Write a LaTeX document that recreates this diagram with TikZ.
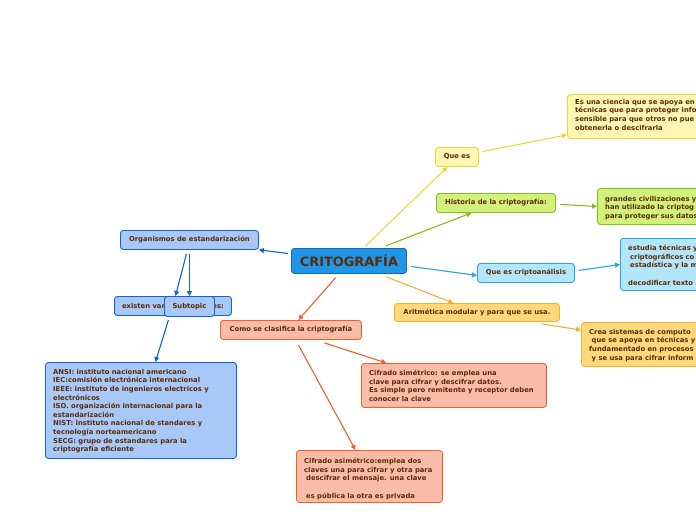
\documentclass[tikz,border=0pt]{standalone}
\usepackage{fontspec}
\setmainfont{DejaVu Sans}
\usetikzlibrary{arrows.meta}
\definecolor{txt}{HTML}{5A2C08}
\definecolor{cenF}{HTML}{2196E8}\definecolor{cenD}{HTML}{1468B8}
\definecolor{yeF}{HTML}{FFF6B4}\definecolor{yeD}{HTML}{EED63C}
\definecolor{grF}{HTML}{D2F07C}\definecolor{grD}{HTML}{84BE1C}
\definecolor{cyF}{HTML}{B4E6FA}\definecolor{cyD}{HTML}{24A6E8}
\definecolor{orF}{HTML}{FFD87C}\definecolor{orD}{HTML}{F6B030}
\definecolor{saF}{HTML}{F9BCA8}\definecolor{saD}{HTML}{F0602C}
\definecolor{blF}{HTML}{A8C8F8}\definecolor{blD}{HTML}{1462D8}
\tikzset{
  box/.style={draw, rounded corners=3pt, line width=0.9pt, inner sep=0pt, anchor=north west,
    font=\fontsize{6.8}{8.6}\selectfont\bfseries, text=txt},
  lbl/.style={inner sep=0pt, anchor=north west, align=left,
    font=\fontsize{6.8}{8.6}\selectfont\bfseries, text=txt},
  conn/.style={line width=1.1pt, -{Triangle[length=5pt,width=5pt]}},
  yel/.style={fill=yeF, draw=yeD}, grn/.style={fill=grF, draw=grD},
  cya/.style={fill=cyF, draw=cyD}, org/.style={fill=orF, draw=orD},
  sal/.style={fill=saF, draw=saD}, blu/.style={fill=blF, draw=blD},
}
\begin{document}
\begin{tikzpicture}[x=1pt,y=-1pt]
\useasboundingbox (0,0) rectangle (696,520);
\fill[white] (0,0) rectangle (696,520);
\clip (0,0) rectangle (696,520);
% central
\node[box, fill=cenF, draw=cenD, minimum width=115pt, minimum height=25pt,
  font=\fontsize{12.9}{14}\selectfont\bfseries] (crit) at (291,248) {CRITOGRAFÍA};
% yellow
\node[box, yel, minimum width=43pt, minimum height=19pt] (quees) at (435,147) {Que es};
\node[box, yel, minimum width=160pt, minimum height=44pt] (def) at (567,94) {};
\node[lbl] at (575,99) {Es una ciencia que se apoya en\\técnicas que para proteger info\\sensible para que otros no pue\\obtenerla o descifrarla};
% green
\node[box, grn, minimum width=119pt, minimum height=19pt] (hist) at (436,193) {Historia de la criptografía:};
\node[box, grn, minimum width=130pt, minimum height=36pt] (grandes) at (597,188) {};
\node[lbl] at (605,196) {grandes civilizaciones y\\han utilizado la criptog\\para proteger sus datos};
% cyan
\node[box, cya, minimum width=97pt, minimum height=19pt] (cripto) at (477,263) {Que es criptoanálisis};
\node[box, cya, minimum width=110pt, minimum height=52pt] (estudia) at (620,238) {};
\node[lbl] at (628,245) {estudia técnicas y\\\hspace*{2pt}criptográficos co\\\hspace*{2pt}estadística y la m\\[8.6pt]decodificar texto};
% orange
\node[box, org, minimum width=165pt, minimum height=18pt] (arit) at (394,303) {Aritmética modular y para que se usa.};
\node[box, org, minimum width=150pt, minimum height=44pt] (crea) at (581,322) {};
\node[lbl] at (589,329) {Crea sistemas de computo\\\hspace*{2.5pt}que se apoya en técnicas y\\fundamentado en procesos\\\hspace*{2.5pt}y se usa para cifrar inform};
% salmon
\node[box, sal, minimum width=141pt, minimum height=19pt] (como) at (220,320) {Como se clasifica la criptografía};
\node[box, sal, minimum width=185pt, minimum height=44pt] (sim) at (361,363) {};
\node[lbl] at (369,370) {Cifrado simétrico: se emplea una\\clave para cifrar y descifrar datos.\\Es simple pero remitente y receptor deben\\conocer la clave};
\node[box, sal, minimum width=146pt, minimum height=52pt] (asim) at (296,450) {};
\node[lbl] at (304,458) {Cifrado asimétrico:emplea dos\\claves una para cifrar y otra para\\\hspace*{2pt}descifrar el mensaje. una clave\\[8.6pt]\hspace*{2pt}es pública la otra es privada};
% blue
\node[box, blu, minimum width=138pt, minimum height=19pt] (orgs) at (120,230) {Organismos de estandarización};
\node[box, blu, minimum width=117pt, minimum height=19pt] (exist) at (114,296) {existen varios estandares:};
\node[box, blu, minimum width=50pt, minimum height=20pt] (sub) at (164,296) {Subtopic};
\node[box, blu, minimum width=191pt, minimum height=96pt] (ansi) at (45,362) {};
\node[lbl] at (53,369) {ANSI: instituto nacional americano\\IEC:comisión electrónica internacional\\IEEE: instituto de ingenieros electricos y\\electrónicos\\ISO. organización internacional para la\\estandarización\\NIST: instituto nacional de standares y\\tecnología norteamericano\\SECG: grupo de estandares para la\\criptografía eficiente};
% connectors
\draw[conn, yeD] ([xshift=16.5pt,yshift=2pt]crit.north) -- ([xshift=-9.5pt]quees.south);
\draw[conn, yeD] ([xshift=4pt,yshift=5.5pt]quees.east) -- ([yshift=4pt]def.south west);
\draw[conn, grD] ([xshift=36.5pt,yshift=2pt]crit.north) -- ([xshift=-24.5pt]hist.south);
\draw[conn, grD] ([xshift=4pt,yshift=-1.5pt]hist.east) -- ([yshift=0pt]grandes.west);
\draw[conn, cyD] ([xshift=4pt,yshift=-5.5pt]crit.east) -- ([yshift=-2.5pt]cripto.west);
\draw[conn, cyD] ([xshift=4pt,yshift=2.5pt]cripto.east) -- ([yshift=0pt]estudia.west);
\draw[conn, orD] ([xshift=37.5pt,yshift=-3pt]crit.south) -- ([xshift=-23.5pt]arit.north);
\draw[conn, orD] ([xshift=64.5pt,yshift=-2pt]arit.south) -- ([yshift=-8pt]crea.north west);
\draw[conn, blD] ([xshift=-3pt,yshift=7.5pt]crit.west) -- (orgs.south east);
\draw[conn, blD] ([xshift=-3pt,yshift=-4pt]orgs.south) -- ([xshift=2.5pt]exist.north);
\draw[conn, blD] ([yshift=-4pt]orgs.south) -- (sub.north);
\draw[conn, blD] ([xshift=-21pt,yshift=-3pt]sub.south) -- ([xshift=14.5pt]ansi.north);
\draw[conn, saD] ([xshift=-13.5pt,yshift=-4pt]crit.south) -- ([xshift=7.5pt]como.north);
\draw[conn, saD] ([xshift=33.5pt,yshift=-3pt]como.south) -- ([xshift=-67.5pt]sim.north);
\draw[conn, saD] ([xshift=7.5pt,yshift=-5pt]como.south) -- ([xshift=-14pt]asim.north);
\end{tikzpicture}
\end{document}
